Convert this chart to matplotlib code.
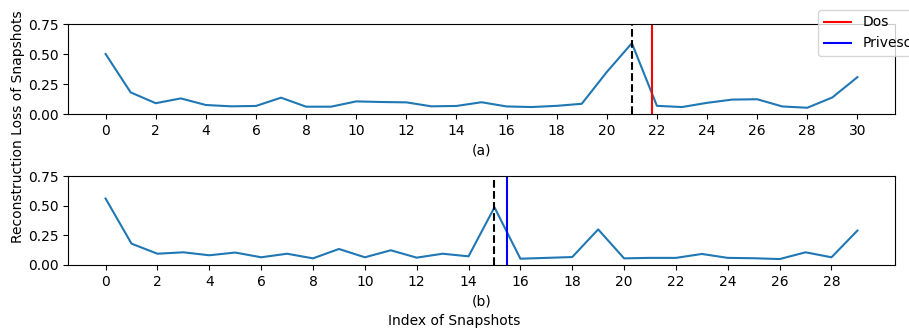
import matplotlib
matplotlib.use("Agg")
import matplotlib.pyplot as plt
import numpy as np

# reconstruction loss per snapshot
loss_a = [0.50, 0.18, 0.09, 0.13, 0.075, 0.064, 0.067, 0.136, 0.061, 0.061,
          0.105, 0.10, 0.097, 0.064, 0.067, 0.098, 0.063, 0.058, 0.068, 0.085,
          0.35, 0.59, 0.068, 0.058, 0.093, 0.12, 0.123, 0.063, 0.052, 0.138,
          0.307]
loss_b = [0.56, 0.18, 0.095, 0.107, 0.082, 0.105, 0.065, 0.095, 0.056, 0.135,
          0.065, 0.124, 0.062, 0.095, 0.073, 0.486, 0.053, 0.06, 0.067, 0.30,
          0.056, 0.06, 0.06, 0.093, 0.06, 0.057, 0.05, 0.107, 0.065, 0.29]

detect_a = 21      # dashed black line
attack_a = 21.8    # Dos
detect_b = 15
attack_b = 15.5    # Privesc

fig = plt.figure(figsize=(9.09, 3.33), dpi=100)
W, H = 909.0, 333.0
ax1 = fig.add_axes([68 / W, 1 - 114 / H, (895 - 68) / W, 90 / H])
ax2 = fig.add_axes([68 / W, 1 - 265 / H, (895 - 68) / W, 89 / H])

ax1.plot(np.arange(len(loss_a)), loss_a, color='tab:blue')
ax1.axvline(detect_a, color='k', linestyle='--')
l_dos = ax1.axvline(attack_a, color='red')
ax1.set_ylim(0, 0.75)
ax1.set_yticks([0, 0.25, 0.5, 0.75])
ax1.set_xticks(range(0, 31, 2))
ax1.set_xlabel('(a)')

ax2.plot(np.arange(len(loss_b)), loss_b, color='tab:blue')
ax2.axvline(detect_b, color='k', linestyle='--')
l_priv = ax2.axvline(attack_b, color='blue')
ax2.set_ylim(0, 0.75)
ax2.set_yticks([0, 0.25, 0.5, 0.75])
ax2.set_xticks(range(0, 29, 2))
ax2.set_xlabel('(b)')

fig.text(0.5, 1 - 321 / H, 'Index of Snapshots', ha='center', va='center', fontsize=10)
fig.text(18 / W, 1 - 127 / H, 'Reconstruction Loss of Snapshots', rotation=90,
         ha='center', va='center', fontsize=10)

fig.legend([l_dos, l_priv], ['Dos', 'Privesc'], loc='upper left',
           bbox_to_anchor=(811 / W, 1 - 3 / H))

fig.savefig('out.png', dpi=100)
